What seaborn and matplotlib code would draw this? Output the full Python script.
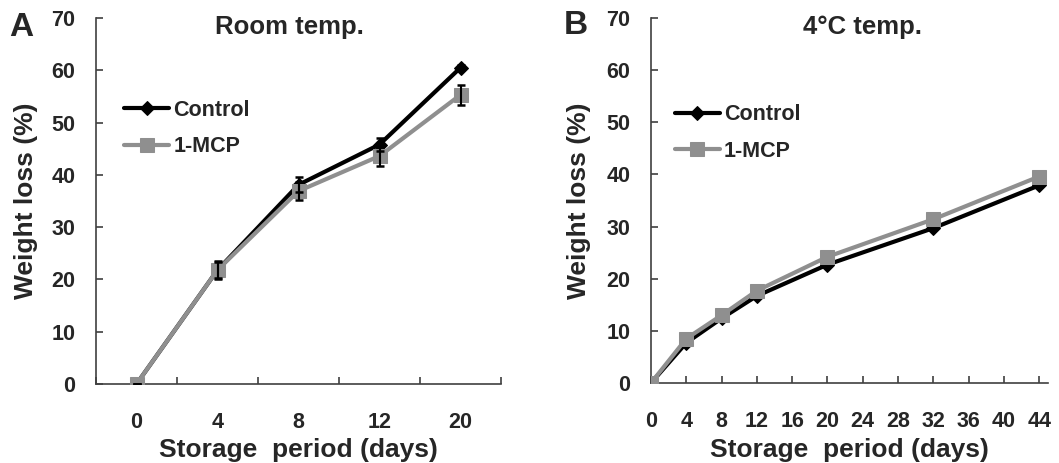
import numpy as np
import pandas as pd
import matplotlib
matplotlib.use("Agg")
import matplotlib.pyplot as plt
import seaborn as sns

# ---------------- data ----------------
days_a = [0, 4, 8, 12, 20]
control_a = [0.0, 21.8, 38.1, 45.8, 60.5]
control_a_err = [0.0, 1.6, 1.4, 1.2, 0.5]
mcp_a = [0.0, 21.8, 36.9, 43.6, 55.3]
mcp_a_err = [0.0, 1.8, 1.7, 2.0, 1.9]

days_b = [0, 4, 8, 12, 20, 32, 44]
control_b = [0.0, 7.7, 12.4, 16.7, 22.7, 29.7, 37.9]
mcp_b = [0.0, 8.5, 13.0, 17.7, 24.2, 31.4, 39.6]

series_names = ["Control", "1-MCP"]
xticks_b = list(range(0, 45, 4))
yticks = list(range(0, 71, 10))

# ---------------- style ----------------
sns.set_theme(style="white")
plt.rcParams["font.family"] = ["Liberation Sans", "DejaVu Sans"]
plt.rcParams["font.weight"] = "bold"

BLACK = "#000000"
GRAY = "#8f8f8f"
AXC = "#404040"
TICK_FS = 15.5
LABEL_FS = 19

fig = plt.figure(figsize=(10.59, 4.63), dpi=100)
axA = fig.add_axes([96 / 1059, 1 - 384 / 463, 405 / 1059, 366 / 463])
axB = fig.add_axes([651 / 1059, 1 - 383 / 463, 397 / 1059, 365 / 463])


def draw(ax, x, ctrl, mcp):
    df = pd.DataFrame({
        "x": list(x) * 2,
        "y": list(ctrl) + list(mcp),
        "s": [series_names[0]] * len(x) + [series_names[1]] * len(x),
    })
    sns.lineplot(data=df[df.s == series_names[0]], x="x", y="y", ax=ax,
                 color=BLACK, lw=3.0, marker="D", markersize=7.5,
                 markeredgecolor=BLACK, label=series_names[0], zorder=3)
    sns.lineplot(data=df[df.s == series_names[1]], x="x", y="y", ax=ax,
                 color=GRAY, lw=3.0, marker="s", markersize=9.5,
                 markeredgecolor=GRAY, label=series_names[1], zorder=4)
    ax.set_ylim(0, 70)
    ax.set_yticks(yticks)
    ax.set_yticklabels([str(v) for v in yticks])
    for s in ("top", "right"):
        ax.spines[s].set_visible(False)
    for s in ("left", "bottom"):
        ax.spines[s].set_color(AXC)
        ax.spines[s].set_linewidth(1.2)
    ax.tick_params(axis="y", direction="in", length=5, width=1.2, color=AXC,
                   labelsize=TICK_FS, pad=15, left=True)
    ax.set_ylabel("Weight loss (%)", fontsize=LABEL_FS, fontweight="bold")
    ax.set_xlabel("Storage  period (days)", fontsize=LABEL_FS, fontweight="bold")
    for lbl in ax.get_yticklabels():
        lbl.set_fontweight("bold")
    leg = ax.legend(loc="upper left", frameon=False, fontsize=15.5,
                    handlelength=2.1, handletextpad=0.18, labelspacing=0.72,
                    borderaxespad=0)
    for t in leg.get_texts():
        t.set_fontweight("bold")
    return leg


# Panel A: categorical axis
pos_a = list(range(len(days_a)))
legA = draw(axA, pos_a, control_a, mcp_a)
for yy, ee in ((control_a, control_a_err), (mcp_a, mcp_a_err)):
    axA.errorbar(pos_a, yy, yerr=ee, fmt="none", ecolor=BLACK, elinewidth=1.5,
                 capsize=3.2, capthick=1.8, zorder=6)
axA.set_xlim(-0.5, len(days_a) - 0.5)
axA.set_xticks(pos_a)
axA.set_xticklabels([str(d) for d in days_a], fontweight="bold")
axA.set_xticks([p + 0.5 for p in range(-1, len(days_a))], minor=True)
axA.tick_params(axis="x", which="major", length=0, labelsize=TICK_FS, pad=20)
axA.tick_params(axis="x", which="minor", direction="in", length=5, width=1.2,
                color=AXC, bottom=True)
legA.set_bbox_to_anchor((0.048, 0.80), transform=axA.transAxes)

# Panel B: numeric axis
legB = draw(axB, days_b, control_b, mcp_b)
axB.set_xlim(0, 45)
axB.set_xticks(xticks_b)
axB.set_xticklabels([str(v) for v in xticks_b], fontweight="bold")
axB.tick_params(axis="x", direction="in", length=5, width=1.2, color=AXC,
                labelsize=TICK_FS, pad=20, bottom=True)
legB.set_bbox_to_anchor((0.038, 0.787), transform=axB.transAxes)

axA.yaxis.set_label_coords(-0.143, 0.5)
axB.yaxis.set_label_coords(-0.151, 0.5)
axA.xaxis.set_label_coords(0.5, -0.147)
axB.xaxis.set_label_coords(0.5, -0.150)

# titles and panel letters
axA.text(0.477, 0.975, "Room temp.", transform=axA.transAxes, ha="center",
         va="center", fontsize=18.5, fontweight="bold")
axB.text(0.534, 0.975, "4°C temp.", transform=axB.transAxes, ha="center",
         va="center", fontsize=18.5, fontweight="bold")
fig.text(21 / 1059, 1 - 27 / 463, "A", ha="center", va="center",
         fontsize=24, fontweight="bold")
fig.text(576 / 1059, 1 - 25 / 463, "B", ha="center", va="center",
         fontsize=24, fontweight="bold")

fig.savefig("out.png", dpi=100)
